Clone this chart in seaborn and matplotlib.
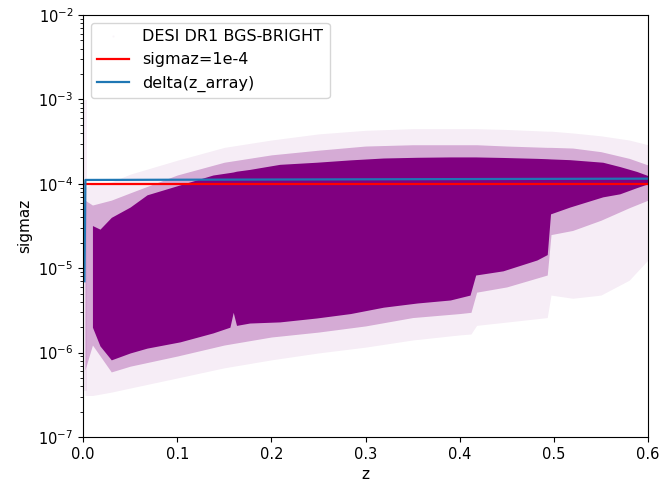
import numpy as np
import matplotlib
matplotlib.use("Agg")
import matplotlib.pyplot as plt
from matplotlib.lines import Line2D
import seaborn as sns
import pandas as pd

# Dense core of the BGS-BRIGHT sigmaz(z) cloud: lower / upper envelope
core_z = [0.010, 0.018, 0.030, 0.050, 0.068, 0.103, 0.138, 0.156, 0.1595, 0.163,
          0.177, 0.209, 0.248, 0.284, 0.319, 0.355, 0.390, 0.411, 0.417, 0.446,
          0.482, 0.493, 0.4965, 0.517, 0.552, 0.570, 0.588, 0.600]
core_hi = [3.2e-5, 2.9e-5, 4.0e-5, 5.3e-5, 7.4e-5, 9.7e-5, 1.27e-4, 1.36e-4, 1.38e-4, 1.41e-4,
           1.48e-4, 1.70e-4, 1.80e-4, 1.92e-4, 2.02e-4, 2.06e-4, 2.08e-4, 2.08e-4, 2.08e-4, 2.05e-4,
           2.00e-4, 1.98e-4, 1.97e-4, 1.93e-4, 1.80e-4, 1.60e-4, 1.40e-4, 1.25e-4]
core_lo = [2.0e-6, 1.2e-6, 8.2e-7, 9.9e-7, 1.13e-6, 1.34e-6, 1.71e-6, 2.0e-6, 3.0e-6, 2.1e-6,
           2.24e-6, 2.31e-6, 2.57e-6, 2.9e-6, 3.45e-6, 3.87e-6, 4.2e-6, 4.8e-6, 8.3e-6, 9.3e-6,
           1.25e-5, 1.45e-5, 4.4e-5, 5.3e-5, 7.0e-5, 7.6e-5, 9.0e-5, 1.0e-4]

# Sparser scatter around the core: inner (denser) and outer (faint) envelopes
halo_z = [0.002, 0.010, 0.030, 0.050, 0.100, 0.150, 0.200, 0.250, 0.300, 0.350,
          0.400, 0.412, 0.418, 0.450, 0.493, 0.497, 0.520, 0.550, 0.580, 0.600]
inner_hi = [6.4e-5, 5.6e-5, 6.4e-5, 7.8e-5, 1.27e-4, 1.8e-4, 2.2e-4, 2.5e-4, 2.8e-4, 2.9e-4,
            2.9e-4, 2.9e-4, 2.9e-4, 2.8e-4, 2.7e-4, 2.7e-4, 2.65e-4, 2.4e-4, 2.0e-4, 1.67e-4]
inner_lo = [6.2e-7, 1.23e-6, 5.9e-7, 6.9e-7, 9.1e-7, 1.23e-6, 1.53e-6, 1.75e-6, 2.07e-6, 2.6e-6,
            2.9e-6, 3.0e-6, 5.2e-6, 6.0e-6, 8.3e-6, 2.5e-5, 2.8e-5, 3.7e-5, 5.2e-5, 6.4e-5]
outer_hi = [9.0e-5, 1.0e-4, 1.05e-4, 1.3e-4, 1.9e-4, 2.7e-4, 3.3e-4, 3.9e-4, 4.3e-4, 4.5e-4,
            4.5e-4, 4.5e-4, 4.5e-4, 4.4e-4, 4.2e-4, 4.2e-4, 4.0e-4, 3.7e-4, 3.3e-4, 2.9e-4]
outer_lo = [3.1e-7, 3.1e-7, 3.4e-7, 3.8e-7, 5.0e-7, 6.6e-7, 8.2e-7, 9.9e-7, 1.16e-6, 1.41e-6,
            1.62e-6, 1.66e-6, 2.1e-6, 2.3e-6, 2.6e-6, 4.8e-6, 4.4e-6, 4.8e-6, 7.2e-6, 1.25e-5]

# Thin column of very low-z objects
col_z = [0.0003, 0.004]
col_lo = [3.5e-7, 3.5e-7]
col_hi = [9.8e-4, 9.8e-4]

# Reference lines
sigma_ref_z = [0.0, 0.6]
sigma_ref = [1e-4, 1e-4]
dz_z = [0.0015, 0.0025, 0.15, 0.30, 0.45, 0.60]
dz_val = [7e-6, 1.11e-4, 1.12e-4, 1.13e-4, 1.14e-4, 1.15e-4]

plt.rcParams["font.size"] = 10.5

fig = plt.figure(figsize=(6.6, 4.84), dpi=100)
ax = fig.add_axes([0.1258, 0.0971, 0.856, 0.872])
ax.set_yscale("log")

cloud = "purple"
ax.fill_between(col_z, col_lo, col_hi, color=cloud, alpha=0.07, linewidth=0)
ax.fill_between(halo_z, outer_lo, outer_hi, color=cloud, alpha=0.07, linewidth=0)
ax.fill_between(halo_z, inner_lo, inner_hi, color=cloud, alpha=0.28, linewidth=0)
ax.fill_between(core_z, core_lo, core_hi, color=cloud, alpha=1.0, linewidth=0)

ref_df = pd.DataFrame({"z": sigma_ref_z, "sigmaz": sigma_ref})
dz_df = pd.DataFrame({"z": dz_z, "sigmaz": dz_val})
sns.lineplot(data=ref_df, x="z", y="sigmaz", color="red", linewidth=1.6,
             errorbar=None, ax=ax)
sns.lineplot(data=dz_df, x="z", y="sigmaz", color="tab:blue", linewidth=1.6,
             errorbar=None, ax=ax)

ax.set_xlim(0, 0.6)
ax.set_ylim(1e-7, 1e-2)
ax.set_xlabel("z", fontsize=11)
ax.set_ylabel("sigmaz", fontsize=11)

handles = [
    Line2D([], [], marker="o", linestyle="", color=cloud, markersize=1, alpha=0.02),
    Line2D([], [], color="red", linewidth=1.6),
    Line2D([], [], color="tab:blue", linewidth=1.6),
]
labels = ["DESI DR1 BGS-BRIGHT", "sigmaz=1e-4", "delta(z_array)"]
ax.legend(handles, labels, loc="upper left", fontsize=11.5)

fig.savefig("out.png", dpi=100)
